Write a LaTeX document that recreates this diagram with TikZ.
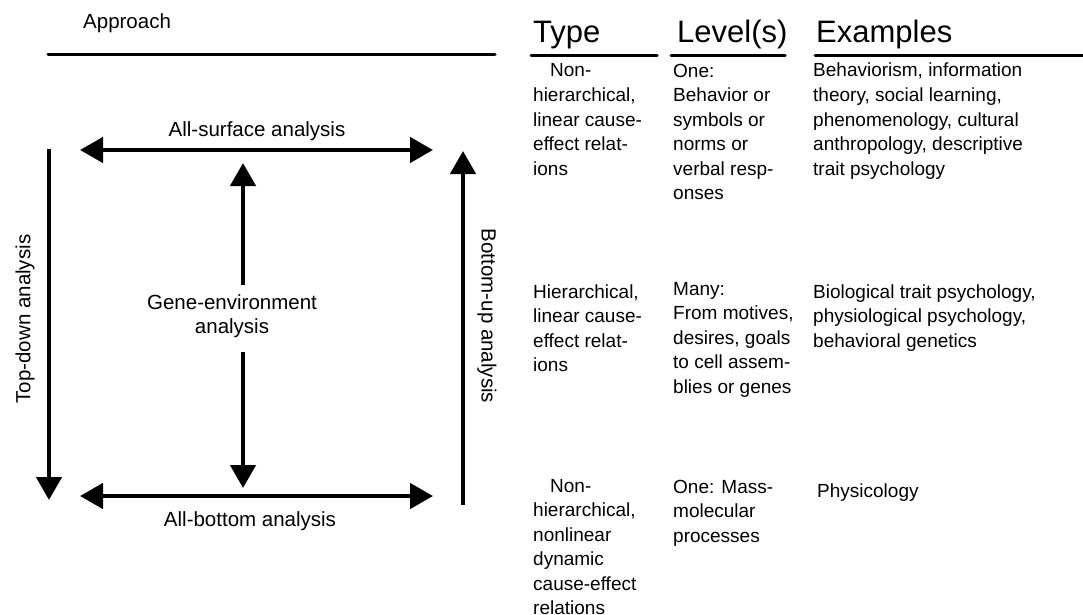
\documentclass[tikz,border=0pt]{standalone}
\usepackage{fontspec}
\setmainfont{Liberation Sans}
\usetikzlibrary{arrows.meta}
\tikzset{
  >={Triangle[length=23pt,width=25pt]},
  {big arrow/.style} ={line width=4.5pt, ->},
  {both arrow/.style} ={line width=4.5pt, <->},
  {rule/.style} ={line width=3pt, line cap=round},
  {side text/.style} ={font=\fontsize{20.5}{23.5}\selectfont, inner sep=0},
  {head text/.style} ={font=\fontsize{31}{36}\selectfont, anchor=base west, inner sep=0},
  % multi-line cells: base = baseline of the last line
  {cell/.style} ={font=\fontsize{19}{24.5}\selectfont, anchor=base west,
                  align=left, inner sep=0},
}
\begin{document}
\begin{tikzpicture}[x=1pt,y=-1pt]
\useasboundingbox (0,0) rectangle (1083,615);
% approach side
\node[side text, anchor=west] (approach) at (83,23) {Approach};
\coordinate (rulel) at (48,55);
\coordinate (ruler) at (495,55);
\draw[rule] (rulel) -- (ruler);
\coordinate (sl) at (80,150);
\coordinate (sr) at (433,150);
\coordinate (bl) at (80,496);
\coordinate (br) at (433,496);
\coordinate (tdtop) at (49,149);
\coordinate (tdbot) at (49,500);
\coordinate (butop) at (463,151);
\coordinate (bubot) at (463,505);
\coordinate (upfrom) at (243,285);
\coordinate (upto) at (243,163);
\coordinate (dnfrom) at (243,352);
\coordinate (dnto) at (243,488);
\node[side text] (surface) at (257,131) {All-surface analysis};
\node[side text] (bottom) at (250,521) {All-bottom analysis};
\node[side text, align=center] (gene) at (232,316) {Gene-environment\\analysis};
\node[side text, rotate=90] (topdown) at (25,319) {Top-down analysis};
\node[side text, rotate=-90] (bottomup) at (487,316) {Bottom-up analysis};
\draw[both arrow] (sl) -- (sr);
\draw[both arrow] (bl) -- (br);
\draw[big arrow] (tdtop) -- (tdbot);
\draw[big arrow] (bubot) -- (butop);
\draw[big arrow] (upfrom) -- (upto);
\draw[big arrow] (dnfrom) -- (dnto);
% table side
\node[head text] (type) at (533,43) {Type};
\node[head text] (level) at (677,43) {Level(s)};
\node[head text] (examples) at (816,43) {Examples};
\coordinate (typel) at (531,56);
\coordinate (typer) at (657,56);
\coordinate (levell) at (671,56);
\coordinate (levelr) at (785,56);
\coordinate (exl) at (815,56);
\coordinate (exr) at (1090,56);
\draw[rule] (typel) -- (typer);
\draw[rule] (levell) -- (levelr);
\draw[rule] (exl) -- (exr);
% row one
\node[cell] (type1) at (533,175) {\hspace*{17pt}Non-\\hierarchical,\\linear cause-\\effect relat-\\ions};
\node[cell] (level1) at (673,199.5) {One:\\Behavior or\\symbols or\\norms or\\verbal resp-\\onses};
\node[cell] (ex1) at (813,175) {Behaviorism, information\\theory, social learning,\\phenomenology, cultural\\anthropology, descriptive\\trait psychology};
% row two
\node[cell] (type2) at (533,371.5) {Hierarchical,\\linear cause-\\effect relat-\\ions};
\node[cell] (level2) at (673,393) {Many:\\From motives,\\desires, goals\\to cell assem-\\blies or genes};
\node[cell] (ex2) at (813,347) {Biological trait psychology,\\physiological psychology,\\behavioral genetics};
% row three
\node[cell] (type3) at (533,614.5) {\hspace*{17pt}Non-\\hierarchical,\\nonlinear\\dynamic\\cause-effect\\relations};
\node[cell] (level3) at (673,542) {One: Mass-\\molecular\\processes};
\node[cell] (ex3) at (817,497) {Physicology};
\end{tikzpicture}
\end{document}
